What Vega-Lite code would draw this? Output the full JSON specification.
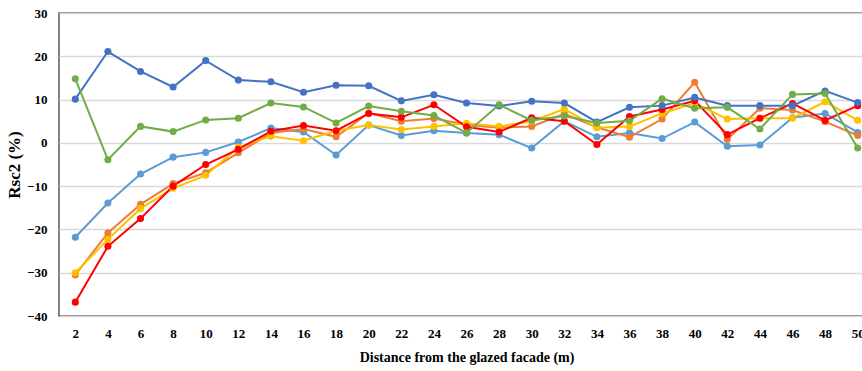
{
  "$schema": "https://vega.github.io/schema/vega-lite/v6.json",
  "width": 815,
  "height": 303,
  "autosize": {"type": "none"},
  "padding": {"left": 59, "top": 13, "right": 0, "bottom": 55},
  "background": "white",
  "config": {
    "view": {"stroke": "#595959", "strokeWidth": 1.5},
    "font": "Liberation Serif"
  },
  "data": {
    "values": [
      {"d": 2, "s": "LB", "v": -21.8}, {"d": 4, "s": "LB", "v": -13.9}, {"d": 6, "s": "LB", "v": -7.2}, {"d": 8, "s": "LB", "v": -3.3}, {"d": 10, "s": "LB", "v": -2.2},
      {"d": 12, "s": "LB", "v": 0.2}, {"d": 14, "s": "LB", "v": 3.4}, {"d": 16, "s": "LB", "v": 2.5}, {"d": 18, "s": "LB", "v": -2.8}, {"d": 20, "s": "LB", "v": 4.1},
      {"d": 22, "s": "LB", "v": 1.7}, {"d": 24, "s": "LB", "v": 2.8}, {"d": 26, "s": "LB", "v": 2.3}, {"d": 28, "s": "LB", "v": 1.9}, {"d": 30, "s": "LB", "v": -1.2},
      {"d": 32, "s": "LB", "v": 5.0}, {"d": 34, "s": "LB", "v": 1.4}, {"d": 36, "s": "LB", "v": 2.3}, {"d": 38, "s": "LB", "v": 1.0}, {"d": 40, "s": "LB", "v": 4.8},
      {"d": 42, "s": "LB", "v": -0.8}, {"d": 44, "s": "LB", "v": -0.5}, {"d": 46, "s": "LB", "v": 5.8}, {"d": 48, "s": "LB", "v": 6.8}, {"d": 50, "s": "LB", "v": 2.4},

      {"d": 2, "s": "OR", "v": -30.5}, {"d": 4, "s": "OR", "v": -20.8}, {"d": 6, "s": "OR", "v": -14.2}, {"d": 8, "s": "OR", "v": -9.4}, {"d": 10, "s": "OR", "v": -6.9},
      {"d": 12, "s": "OR", "v": -2.3}, {"d": 14, "s": "OR", "v": 2.3}, {"d": 16, "s": "OR", "v": 3.2}, {"d": 18, "s": "OR", "v": 1.4}, {"d": 20, "s": "OR", "v": 6.9},
      {"d": 22, "s": "OR", "v": 5.0}, {"d": 24, "s": "OR", "v": 5.6}, {"d": 26, "s": "OR", "v": 4.2}, {"d": 28, "s": "OR", "v": 3.5}, {"d": 30, "s": "OR", "v": 3.8},
      {"d": 32, "s": "OR", "v": 6.7}, {"d": 34, "s": "OR", "v": 3.6}, {"d": 36, "s": "OR", "v": 1.3}, {"d": 38, "s": "OR", "v": 5.5}, {"d": 40, "s": "OR", "v": 14.0},
      {"d": 42, "s": "OR", "v": 0.8}, {"d": 44, "s": "OR", "v": 8.0}, {"d": 46, "s": "OR", "v": 7.6}, {"d": 48, "s": "OR", "v": 4.9}, {"d": 50, "s": "OR", "v": 1.7},

      {"d": 2, "s": "YE", "v": -30.0}, {"d": 4, "s": "YE", "v": -22.3}, {"d": 6, "s": "YE", "v": -15.2}, {"d": 8, "s": "YE", "v": -10.5}, {"d": 10, "s": "YE", "v": -7.5},
      {"d": 12, "s": "YE", "v": -1.0}, {"d": 14, "s": "YE", "v": 1.5}, {"d": 16, "s": "YE", "v": 0.5}, {"d": 18, "s": "YE", "v": 2.8}, {"d": 20, "s": "YE", "v": 4.1},
      {"d": 22, "s": "YE", "v": 3.1}, {"d": 24, "s": "YE", "v": 3.8}, {"d": 26, "s": "YE", "v": 4.5}, {"d": 28, "s": "YE", "v": 3.8}, {"d": 30, "s": "YE", "v": 5.0},
      {"d": 32, "s": "YE", "v": 7.8}, {"d": 34, "s": "YE", "v": 3.5}, {"d": 36, "s": "YE", "v": 3.8}, {"d": 38, "s": "YE", "v": 6.8}, {"d": 40, "s": "YE", "v": 9.2},
      {"d": 42, "s": "YE", "v": 5.5}, {"d": 44, "s": "YE", "v": 5.7}, {"d": 46, "s": "YE", "v": 5.7}, {"d": 48, "s": "YE", "v": 9.5}, {"d": 50, "s": "YE", "v": 5.2},

      {"d": 2, "s": "RD", "v": -36.8}, {"d": 4, "s": "RD", "v": -23.9}, {"d": 6, "s": "RD", "v": -17.5}, {"d": 8, "s": "RD", "v": -10.0}, {"d": 10, "s": "RD", "v": -5.0},
      {"d": 12, "s": "RD", "v": -1.5}, {"d": 14, "s": "RD", "v": 2.7}, {"d": 16, "s": "RD", "v": 4.0}, {"d": 18, "s": "RD", "v": 2.8}, {"d": 20, "s": "RD", "v": 6.8},
      {"d": 22, "s": "RD", "v": 5.9}, {"d": 24, "s": "RD", "v": 8.8}, {"d": 26, "s": "RD", "v": 3.7}, {"d": 28, "s": "RD", "v": 2.5}, {"d": 30, "s": "RD", "v": 5.8},
      {"d": 32, "s": "RD", "v": 5.0}, {"d": 34, "s": "RD", "v": -0.4}, {"d": 36, "s": "RD", "v": 6.1}, {"d": 38, "s": "RD", "v": 7.7}, {"d": 40, "s": "RD", "v": 9.7},
      {"d": 42, "s": "RD", "v": 1.9}, {"d": 44, "s": "RD", "v": 5.7}, {"d": 46, "s": "RD", "v": 9.1}, {"d": 48, "s": "RD", "v": 5.2}, {"d": 50, "s": "RD", "v": 8.6},

      {"d": 2, "s": "DB", "v": 10.1}, {"d": 4, "s": "DB", "v": 21.1}, {"d": 6, "s": "DB", "v": 16.5}, {"d": 8, "s": "DB", "v": 12.9}, {"d": 10, "s": "DB", "v": 19.0},
      {"d": 12, "s": "DB", "v": 14.5}, {"d": 14, "s": "DB", "v": 14.1}, {"d": 16, "s": "DB", "v": 11.7}, {"d": 18, "s": "DB", "v": 13.3}, {"d": 20, "s": "DB", "v": 13.2},
      {"d": 22, "s": "DB", "v": 9.7}, {"d": 24, "s": "DB", "v": 11.1}, {"d": 26, "s": "DB", "v": 9.2}, {"d": 28, "s": "DB", "v": 8.5}, {"d": 30, "s": "DB", "v": 9.6},
      {"d": 32, "s": "DB", "v": 9.2}, {"d": 34, "s": "DB", "v": 4.8}, {"d": 36, "s": "DB", "v": 8.2}, {"d": 38, "s": "DB", "v": 8.6}, {"d": 40, "s": "DB", "v": 10.5},
      {"d": 42, "s": "DB", "v": 8.6}, {"d": 44, "s": "DB", "v": 8.6}, {"d": 46, "s": "DB", "v": 8.6}, {"d": 48, "s": "DB", "v": 12.0}, {"d": 50, "s": "DB", "v": 9.3},

      {"d": 2, "s": "GR", "v": 14.8}, {"d": 4, "s": "GR", "v": -3.9}, {"d": 6, "s": "GR", "v": 3.8}, {"d": 8, "s": "GR", "v": 2.6}, {"d": 10, "s": "GR", "v": 5.3},
      {"d": 12, "s": "GR", "v": 5.7}, {"d": 14, "s": "GR", "v": 9.2}, {"d": 16, "s": "GR", "v": 8.3}, {"d": 18, "s": "GR", "v": 4.6}, {"d": 20, "s": "GR", "v": 8.5},
      {"d": 22, "s": "GR", "v": 7.3}, {"d": 24, "s": "GR", "v": 6.3}, {"d": 26, "s": "GR", "v": 2.3}, {"d": 28, "s": "GR", "v": 8.8}, {"d": 30, "s": "GR", "v": 5.2},
      {"d": 32, "s": "GR", "v": 6.2}, {"d": 34, "s": "GR", "v": 4.6}, {"d": 36, "s": "GR", "v": 5.1}, {"d": 38, "s": "GR", "v": 10.2}, {"d": 40, "s": "GR", "v": 8.0},
      {"d": 42, "s": "GR", "v": 8.2}, {"d": 44, "s": "GR", "v": 3.2}, {"d": 46, "s": "GR", "v": 11.2}, {"d": 48, "s": "GR", "v": 11.4}, {"d": 50, "s": "GR", "v": -1.2}
    ]
  },
  "mark": {
    "type": "line",
    "strokeWidth": 2,
    "point": {"filled": true, "size": 50, "opacity": 1}
  },
  "encoding": {
    "x": {
      "field": "d",
      "type": "quantitative",
      "scale": {"domain": [1, 51], "nice": false},
      "axis": {
        "values": [2, 4, 6, 8, 10, 12, 14, 16, 18, 20, 22, 24, 26, 28, 30, 32, 34, 36, 38, 40, 42, 44, 46, 48, 50],
        "grid": false,
        "domain": false,
        "ticks": false,
        "labelPadding": 11,
        "labelFont": "Liberation Serif",
        "labelFontWeight": "bold",
        "labelFontSize": 13,
        "labelColor": "#000000",
        "title": "Distance from the glazed facade (m)",
        "titleFont": "Liberation Serif",
        "titleFontWeight": "bold",
        "titleFontSize": 14,
        "titleColor": "#000000",
        "titlePadding": 10
      }
    },
    "y": {
      "field": "v",
      "type": "quantitative",
      "scale": {"domain": [-40, 30], "nice": false},
      "axis": {
        "values": [-40, -30, -20, -10, 0, 10, 20, 30],
        "gridColor": "#d9d9d9",
        "gridWidth": 1.5,
        "domain": false,
        "ticks": false,
        "labelPadding": 12,
        "labelFont": "Liberation Serif",
        "labelFontWeight": "bold",
        "labelFontSize": 13,
        "labelColor": "#000000",
        "title": "Rsc2 (%)",
        "titleFont": "Liberation Serif",
        "titleFontWeight": "bold",
        "titleFontSize": 17,
        "titleColor": "#000000",
        "titlePadding": 3
      }
    },
    "color": {
      "field": "s",
      "type": "nominal",
      "sort": ["LB", "OR", "YE", "RD", "DB", "GR"],
      "scale": {
        "domain": ["LB", "OR", "YE", "RD", "DB", "GR"],
        "range": ["#5B9BD5", "#ED7D31", "#FFC000", "#FF0000", "#4472C4", "#70AD47"]
      },
      "legend": null
    },
    "order": {"field": "d", "type": "quantitative"}
  }
}
